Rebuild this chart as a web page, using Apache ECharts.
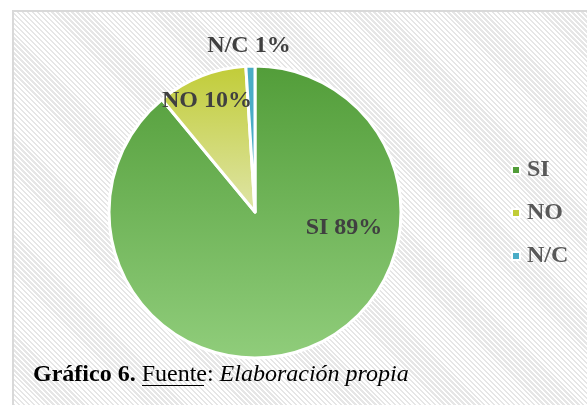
<!DOCTYPE html>
<html>
<head>
<meta charset="utf-8">
<script src="https://cdn.jsdelivr.net/npm/echarts@6/dist/echarts.min.js"></script>
<style>
  html, body { margin: 0; padding: 0; background: #fff; }
  #wrap { position: relative; width: 587px; height: 405px; overflow: hidden; }
  /* 背景斜纹 */
  #bg {
    position: absolute; left: 12px; top: 10px; width: 600px; height: 420px;
    border: 2px solid #d9d9d9; box-sizing: border-box;
    background: repeating-linear-gradient(45deg, #ffffff 0 1.8px, #e6e6e6 1.8px 3.5px);
  }
  #chart { position: absolute; left: 0; top: 0; width: 587px; height: 405px; }
</style>
</head>
<body>
<div id="wrap">
  <div id="bg"></div>
  <div id="chart"></div>
</div>
<script>
// 数据
var categories = ['SI', 'NO', 'N/C'];
var values = [89, 10, 1];
var colorTop = ['#529d39', '#c1cc37', '#4aacc6'];
var colorBottom = ['#90cd7b', '#dfe5a8', '#4aacc6'];
// 标签位置
var labelPos = [[344, 228], [207, 101], [249, 46]];

var qCharts = echarts.init(document.getElementById('chart'));

var seriesData = categories.map(function (name, i) {
  return {
    name: name,
    value: values[i],
    itemStyle: {
      color: new echarts.graphic.LinearGradient(0, 0, 0, 1, [
        { offset: 0, color: colorTop[i] },
        { offset: 1, color: colorBottom[i] }
      ])
    }
  };
});

var option = {
  backgroundColor: 'transparent',
  legend: {
    data: categories.map(function (name, i) {
      return { name: name, itemStyle: { color: colorTop[i] } };
    }),
    orient: 'vertical',
    left: 506,
    top: 153,
    itemWidth: 8,
    itemHeight: 8,
    itemGap: 19,
    icon: 'rect',
    textStyle: {
      fontFamily: 'Liberation Serif',
      fontSize: 24,
      fontWeight: 'bold',
      color: '#595959',
      padding: [0, 0, 0, 2]
    }
  },
  series: [{
    type: 'pie',
    center: [255, 212],
    radius: 146,
    startAngle: 90,
    clockwise: true,
    silent: true,
    itemStyle: {
      borderColor: '#ffffff',
      borderWidth: 3
    },
    label: {
      show: true,
      position: 'inside',
      formatter: '{b} {d}%',
      fontFamily: 'Liberation Serif',
      fontSize: 24,
      fontWeight: 'bold',
      color: '#404040'
    },
    labelLine: { show: false },
    labelLayout: function (params) {
      var p = labelPos[params.dataIndex];
      return { x: p[0], y: p[1], align: 'center', verticalAlign: 'middle' };
    },
    data: seriesData
  }],
  graphic: [{
    type: 'text',
    left: 33,
    top: 363,
    style: {
      text: '{b|Gráfico 6.} {n|Fuente}{n|:} {i|Elaboración propia}',
      rich: {
        b: { fontFamily: 'Liberation Serif', fontSize: 24, fontWeight: 'bold', fill: '#000' },
        n: { fontFamily: 'Liberation Serif', fontSize: 24, fill: '#000' },
        i: { fontFamily: 'Liberation Serif', fontSize: 24, fontStyle: 'italic', fill: '#000' }
      },
      font: '24px "Liberation Serif"',
      fill: '#000'
    }
  }, {
    // Fuente 下划线
    type: 'line',
    shape: { x1: 142, y1: 385.5, x2: 204, y2: 385.5 },
    style: { stroke: '#000', lineWidth: 1 }
  }]
};

qCharts.setOption(option);
</script>
</body>
</html>
